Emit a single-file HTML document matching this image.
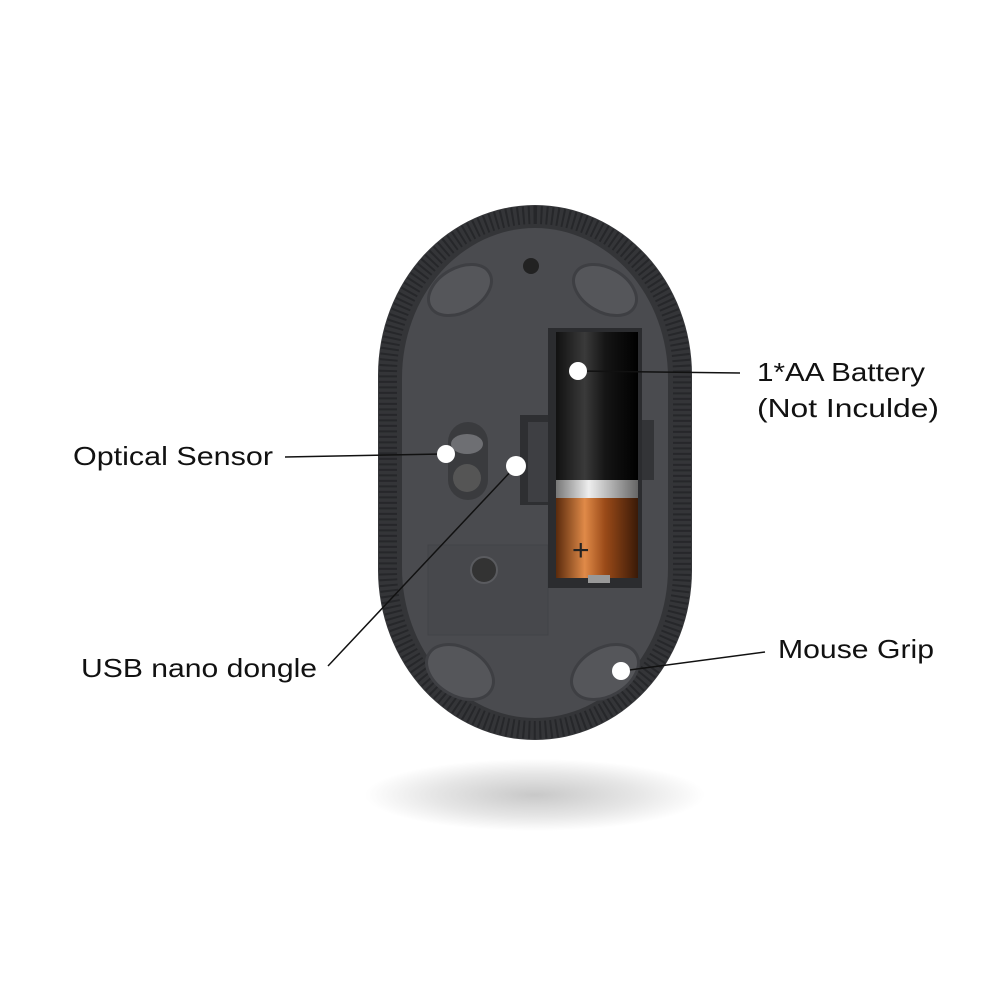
<!DOCTYPE html>
<html><head><meta charset="utf-8"><style>
html,body{margin:0;padding:0;background:#fff;width:1000px;height:1000px;overflow:hidden}
svg{display:block}
text{font-family:"Liberation Sans",sans-serif;font-size:26px;fill:#111}
</style></head><body>
<svg width="1000" height="1000" viewBox="0 0 1000 1000">
<defs>
<radialGradient id="sh" cx="50%" cy="50%" r="50%">
<stop offset="0" stop-color="#c8c8c8"/><stop offset="0.6" stop-color="#e6e6e6"/><stop offset="1" stop-color="#fff"/>
</radialGradient>
<linearGradient id="bat" x1="0" x2="1">
<stop offset="0" stop-color="#111"/><stop offset="0.35" stop-color="#3a3a3a"/><stop offset="0.6" stop-color="#151515"/><stop offset="1" stop-color="#000"/>
</linearGradient>
<linearGradient id="cu" x1="0" x2="1">
<stop offset="0" stop-color="#5a2a0c"/><stop offset="0.35" stop-color="#e08a48"/><stop offset="0.6" stop-color="#9a4a18"/><stop offset="1" stop-color="#3a1a08"/>
</linearGradient>
<linearGradient id="ag" x1="0" x2="1">
<stop offset="0" stop-color="#777"/><stop offset="0.4" stop-color="#eee"/><stop offset="1" stop-color="#666"/>
</linearGradient>
</defs>
<ellipse cx="535" cy="795" rx="170" ry="36" fill="url(#sh)"/>
<rect x="378" y="205" width="314" height="535" rx="157" ry="170" fill="#343538"/>
<rect x="388" y="215" width="294" height="515" rx="147" ry="160" fill="none" stroke="#26272a" stroke-width="18" stroke-dasharray="2 3.5"/>
<rect x="402" y="228" width="266" height="490" rx="133" ry="150" fill="#4a4b4f"/>
<circle cx="531" cy="266" r="8" fill="#222"/>
<ellipse cx="460" cy="290" rx="34" ry="22" fill="#55565a" stroke="#3e3f43" stroke-width="3" transform="rotate(-30 460 290)"/>
<ellipse cx="605" cy="290" rx="34" ry="22" fill="#55565a" stroke="#3e3f43" stroke-width="3" transform="rotate(30 605 290)"/>
<ellipse cx="460" cy="672" rx="36" ry="24" fill="#55565a" stroke="#3e3f43" stroke-width="3" transform="rotate(30 460 672)"/>
<ellipse cx="605" cy="672" rx="36" ry="24" fill="#55565a" stroke="#3e3f43" stroke-width="3" transform="rotate(-30 605 672)"/>
<rect x="428" y="545" width="120" height="90" fill="#47484c" stroke="#424347"/>
<circle cx="484" cy="570" r="13" fill="#333" stroke="#5a5b5f" stroke-width="2"/>
<rect x="448" y="422" width="40" height="78" rx="20" fill="#3a3b3e"/>
<ellipse cx="467" cy="444" rx="16" ry="10" fill="#6e6f73"/>
<circle cx="467" cy="478" r="14" fill="#555"/>
<rect x="520" y="415" width="50" height="90" fill="#2e2f32"/>
<rect x="528" y="422" width="34" height="80" fill="#3e3f43"/>
<rect x="640" y="420" width="14" height="60" fill="#333437"/>
<rect x="548" y="328" width="94" height="260" fill="#2b2c2f"/>
<rect x="556" y="332" width="82" height="150" fill="url(#bat)"/>
<rect x="556" y="480" width="82" height="18" fill="url(#ag)"/>
<rect x="556" y="498" width="82" height="80" fill="url(#cu)"/>
<rect x="588" y="575" width="22" height="8" fill="#999"/>
<text x="572" y="560" style="font-size:30px;fill:#222">+</text>
<g stroke="#111" stroke-width="1.5" fill="none">
<line x1="285" y1="457" x2="442" y2="454"/>
<line x1="578" y1="371" x2="740" y2="373"/>
<line x1="328" y1="666" x2="514" y2="468"/>
<line x1="622" y1="671" x2="765" y2="652"/>
</g>
<g fill="#fff">
<circle cx="446" cy="454" r="9"/>
<circle cx="578" cy="371" r="9"/>
<circle cx="516" cy="466" r="10"/>
<circle cx="621" cy="671" r="9"/>
</g>
<text x="73" y="465" textLength="200" lengthAdjust="spacingAndGlyphs">Optical Sensor</text>
<text x="757" y="381" textLength="168" lengthAdjust="spacingAndGlyphs">1*AA Battery</text>
<text x="757" y="417" textLength="182" lengthAdjust="spacingAndGlyphs">(Not Inculde)</text>
<text x="81" y="677" textLength="236" lengthAdjust="spacingAndGlyphs">USB nano dongle</text>
<text x="778" y="658" textLength="156" lengthAdjust="spacingAndGlyphs">Mouse Grip</text>
</svg>
</body></html>
